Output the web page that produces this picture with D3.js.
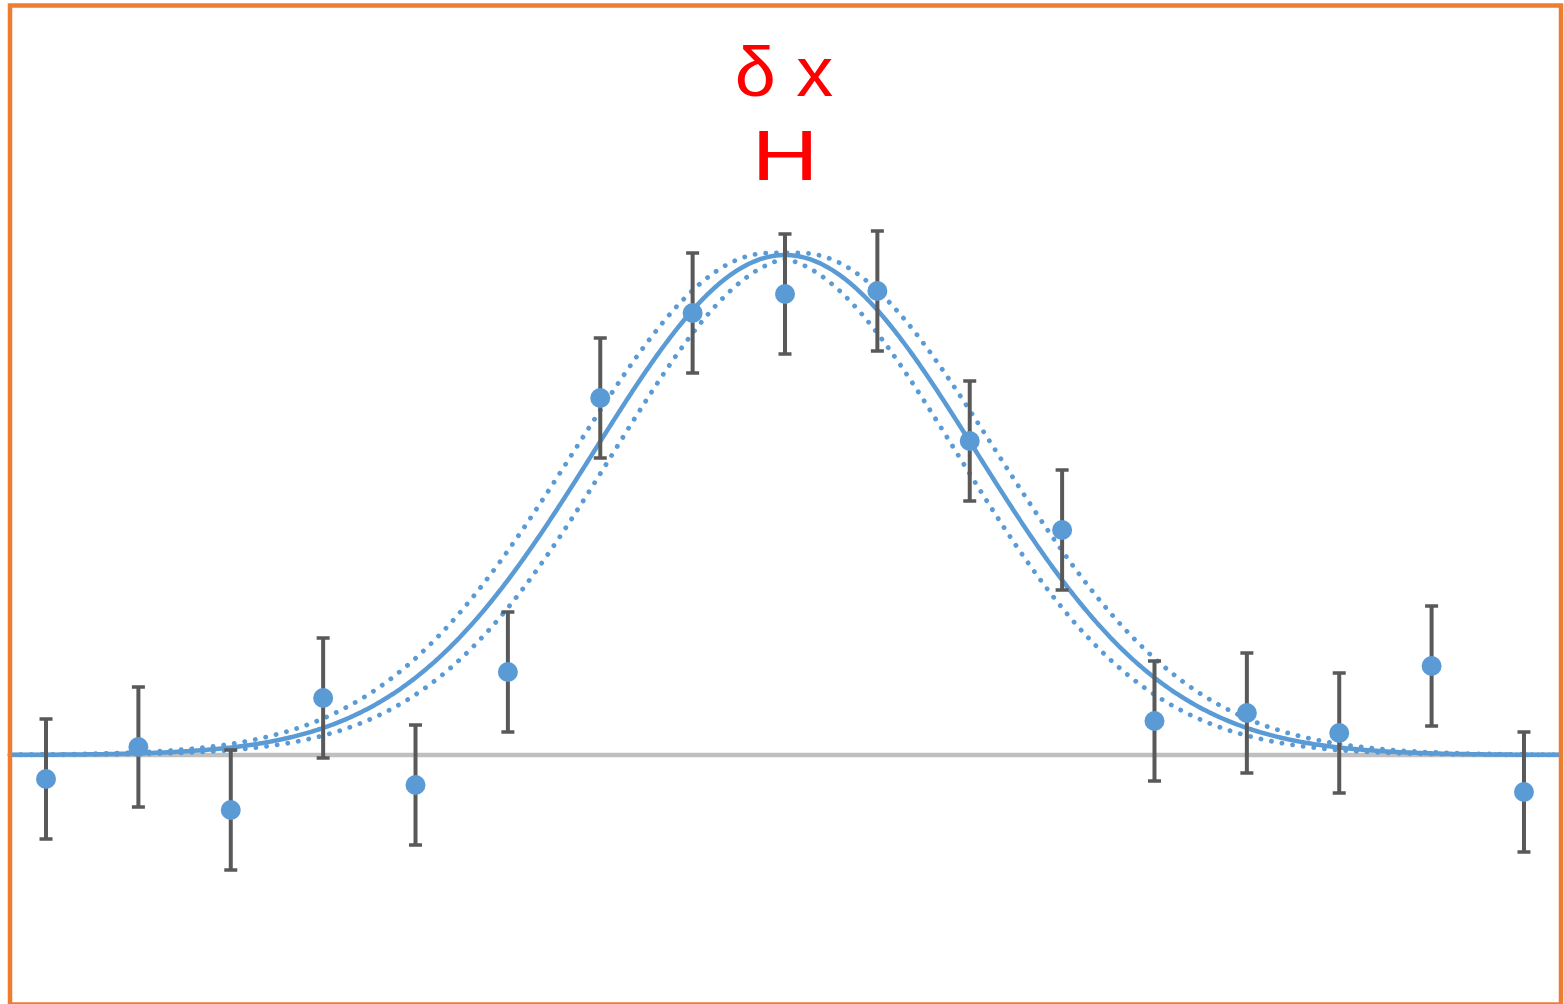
<!DOCTYPE html>
<html>
<head>
<meta charset="utf-8">
<script src="https://cdn.jsdelivr.net/npm/d3@7"></script>
<style>
  html, body { margin: 0; padding: 0; background: #ffffff; }
  svg { display: block; }
</style>
</head>
<body>
<svg id="chart" width="1564" height="1004"></svg>
<script>
// Measured signal per bin, with its uncertainty
const bins = [0, 1, 2, 3, 4, 5, 6, 7, 8, 9, 10, 11, 12, 13, 14, 15, 16];
const signal = [-0.048, 0.016, -0.11, 0.114, -0.06, 0.166, 0.714, 0.884, 0.922, 0.928, 0.628, 0.45, 0.068, 0.084, 0.044, 0.178, -0.074];
const errors = [0.12, 0.12, 0.12, 0.12, 0.12, 0.12, 0.12, 0.12, 0.12, 0.12, 0.12, 0.12, 0.12, 0.12, 0.12, 0.12, 0.12];

// Gaussian fit parameters: [value, uncertainty]
const fitAmplitude = [1.0, 0.004];
const fitCenter = [8.0, 0.17];
const fitWidth = [2.07, 0.04];

const titleLines = ["δ x", "H"];

const svg = d3.select("#chart");

const x = d3.scaleLinear().domain([-0.39, 16.39]).range([10, 1560]);
const y = d3.scaleLinear().domain([0, 1]).range([755, 255]);

const blue = "#5B9BD5";

// zero line
svg.append("line")
  .attr("x1", x.range()[0]).attr("x2", x.range()[1])
  .attr("y1", y(0)).attr("y2", y(0))
  .attr("stroke", "#BFBFBF").attr("stroke-width", 4.5);

// best fit and the envelope of the fit family within the parameter uncertainties
const gauss = (v, a, c, s) => a * Math.exp(-((v - c) ** 2) / (2 * s * s));
const best = v => gauss(v, fitAmplitude[0], fitCenter[0], fitWidth[0]);
const upper = v => {
  const d = Math.max(0, Math.abs(v - fitCenter[0]) - fitCenter[1]);
  return gauss(d, fitAmplitude[0] + fitAmplitude[1], 0, fitWidth[0] + fitWidth[1]);
};
const lower = v => {
  const d = Math.abs(v - fitCenter[0]) + fitCenter[1];
  return gauss(d, fitAmplitude[0] - fitAmplitude[1], 0, fitWidth[0] - fitWidth[1]);
};

const xs = d3.range(x.domain()[0], x.domain()[1] + 0.001, 0.02);
const line = d3.line().x(d => x(d[0])).y(d => y(d[1]));

[upper, lower].forEach(f => {
  svg.append("path")
    .attr("d", line(xs.map(v => [v, f(v)])))
    .attr("fill", "none")
    .attr("stroke", blue)
    .attr("stroke-width", 4.8)
    .attr("stroke-linecap", "round")
    .attr("stroke-dasharray", "0.1 10.6");
});

svg.append("path")
  .attr("d", line(xs.map(v => [v, best(v)])))
  .attr("fill", "none")
  .attr("stroke", blue)
  .attr("stroke-width", 4.5)
  .attr("stroke-linejoin", "round");

// error bars
const bars = svg.append("g").attr("stroke", "#595959").attr("stroke-width", 4);
bins.forEach((b, i) => {
  const cx = x(b), top = y(signal[i] + errors[i]), bot = y(signal[i] - errors[i]);
  bars.append("line").attr("x1", cx).attr("x2", cx).attr("y1", top).attr("y2", bot);
  bars.append("line").attr("x1", cx - 6.5).attr("x2", cx + 6.5).attr("y1", top).attr("y2", top).attr("stroke-width", 3.5);
  bars.append("line").attr("x1", cx - 6.5).attr("x2", cx + 6.5).attr("y1", bot).attr("y2", bot).attr("stroke-width", 3.5);
});

// data markers
svg.append("g").selectAll("circle")
  .data(bins)
  .join("circle")
  .attr("cx", d => x(d))
  .attr("cy", (d, i) => y(signal[i]))
  .attr("r", 10)
  .attr("fill", blue);

// title
const title = svg.append("g").attr("fill", "#FF0000")
  .attr("font-family", "'Liberation Sans', Arial, sans-serif")
  .attr("font-size", 71)
  .attr("text-anchor", "middle");
title.append("text").text(titleLines[0])
  .attr("transform", "translate(784,96) scale(1.04,1)");
title.append("text").text(titleLines[1])
  .attr("transform", "translate(785,180) scale(1.3,1)");

// frame
svg.append("rect")
  .attr("x", 10).attr("y", 5.5)
  .attr("width", 1551).attr("height", 999)
  .attr("fill", "none")
  .attr("stroke", "#ED7D31")
  .attr("stroke-width", 4.5);
</script>
</body>
</html>
